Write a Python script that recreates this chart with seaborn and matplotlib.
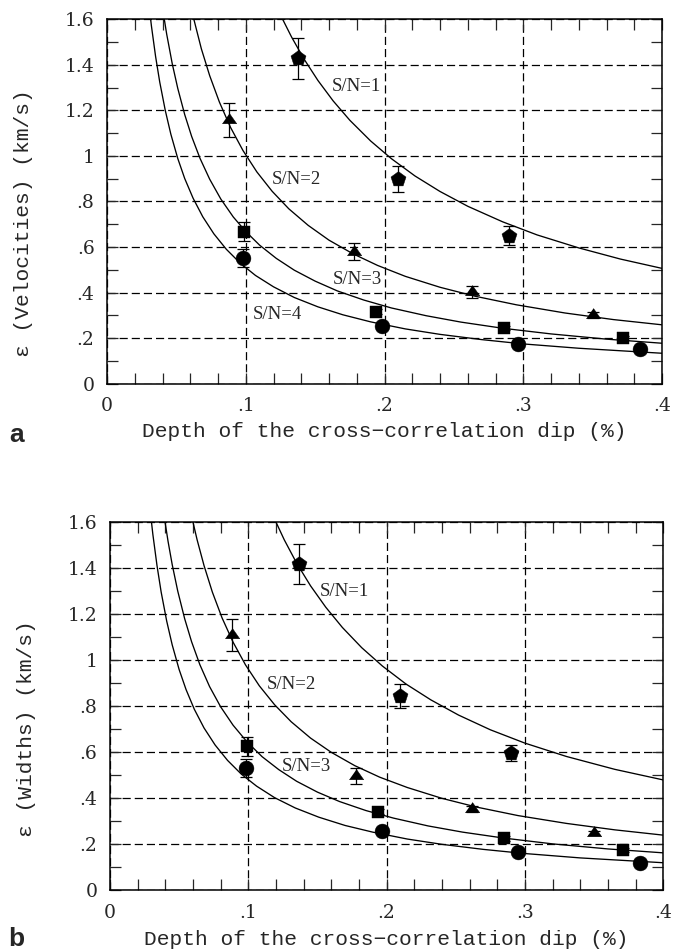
import numpy as np
import pandas as pd
import matplotlib
matplotlib.use('Agg')
import matplotlib.pyplot as plt
import seaborn as sns
from matplotlib.ticker import MultipleLocator

# ---------------- data ----------------
# panel a : velocities
# model curves, one per S/N
a_sn1_x = [0.125, 0.133, 0.142, 0.152, 0.163, 0.175, 0.19, 0.205, 0.222, 0.24, 0.26, 0.285, 0.31, 0.34, 0.37, 0.4]
a_sn1_y = [1.620, 1.523, 1.426, 1.332, 1.242, 1.157, 1.066, 0.988, 0.912, 0.844, 0.779, 0.711, 0.653, 0.596, 0.547, 0.506]
a_sn2_x = [0.061, 0.068, 0.074, 0.081, 0.089, 0.098, 0.108, 0.119, 0.131, 0.145, 0.16, 0.177, 0.195, 0.215, 0.24, 0.265, 0.295, 0.33, 0.365, 0.4]
a_sn2_y = [1.639, 1.471, 1.353, 1.237, 1.126, 1.024, 0.930, 0.845, 0.768, 0.695, 0.630, 0.571, 0.519, 0.471, 0.423, 0.384, 0.346, 0.310, 0.281, 0.258]
a_sn3_x = [0.040, 0.043, 0.047, 0.051, 0.056, 0.061, 0.067, 0.074, 0.082, 0.091, 0.1, 0.11, 0.122, 0.135, 0.15, 0.166, 0.185, 0.205, 0.23, 0.255, 0.285, 0.32, 0.36, 0.4]
a_sn3_y = [1.650, 1.536, 1.406, 1.297, 1.182, 1.086, 0.990, 0.898, 0.811, 0.732, 0.668, 0.608, 0.550, 0.498, 0.450, 0.407, 0.367, 0.332, 0.298, 0.270, 0.243, 0.218, 0.195, 0.177]
a_sn4_x = [0.030, 0.032, 0.035, 0.038, 0.042, 0.046, 0.051, 0.056, 0.062, 0.069, 0.077, 0.086, 0.096, 0.107, 0.12, 0.135, 0.152, 0.17, 0.19, 0.215, 0.24, 0.27, 0.3, 0.34, 0.4]
a_sn4_y = [1.676, 1.572, 1.438, 1.325, 1.200, 1.096, 0.989, 0.901, 0.815, 0.733, 0.658, 0.590, 0.529, 0.475, 0.425, 0.378, 0.337, 0.302, 0.271, 0.240, 0.216, 0.193, 0.174, 0.155, 0.133]

# measured points with error bars
a_pent_x = [0.138, 0.210, 0.290]
a_pent_y = [1.430, 0.898, 0.650]
a_pent_err = [0.090, 0.057, 0.043]
a_tri_x = [0.088, 0.178, 0.263, 0.350]
a_tri_y = [1.158, 0.580, 0.404, 0.301]
a_tri_err = [0.073, 0.036, 0.026, 0.012]
a_sq_x = [0.099, 0.194, 0.286, 0.372]
a_sq_y = [0.667, 0.316, 0.244, 0.200]
a_sq_err = [0.042, 0.010, 0.010, 0.010]
a_circ_x = [0.098, 0.198, 0.296, 0.384]
a_circ_y = [0.550, 0.252, 0.175, 0.152]
a_circ_err = [0.040, 0.010, 0.010, 0.010]

# panel b : widths
b_sn1_x = [0.118, 0.126, 0.135, 0.145, 0.156, 0.168, 0.182, 0.197, 0.214, 0.232, 0.252, 0.275, 0.3, 0.33, 0.365, 0.4]
b_sn1_y = [1.627, 1.524, 1.422, 1.324, 1.231, 1.143, 1.055, 0.975, 0.897, 0.828, 0.762, 0.698, 0.640, 0.582, 0.526, 0.480]
b_sn2_x = [0.059, 0.063, 0.068, 0.074, 0.081, 0.089, 0.098, 0.108, 0.119, 0.131, 0.145, 0.16, 0.177, 0.195, 0.215, 0.24, 0.265, 0.295, 0.33, 0.365, 0.4]
b_sn2_y = [1.627, 1.524, 1.412, 1.297, 1.185, 1.079, 0.980, 0.889, 0.807, 0.733, 0.662, 0.600, 0.542, 0.492, 0.447, 0.400, 0.362, 0.325, 0.291, 0.263, 0.240]
b_sn3_x = [0.039, 0.042, 0.045, 0.049, 0.054, 0.059, 0.065, 0.072, 0.08, 0.089, 0.099, 0.11, 0.122, 0.135, 0.15, 0.166, 0.185, 0.205, 0.23, 0.255, 0.285, 0.32, 0.36, 0.4]
b_sn3_y = [1.633, 1.517, 1.416, 1.301, 1.181, 1.081, 0.981, 0.886, 0.798, 0.718, 0.646, 0.581, 0.525, 0.474, 0.427, 0.386, 0.347, 0.314, 0.280, 0.253, 0.227, 0.202, 0.180, 0.163]
b_sn4_x = [0.029, 0.031, 0.034, 0.037, 0.041, 0.045, 0.05, 0.055, 0.061, 0.068, 0.076, 0.085, 0.095, 0.106, 0.119, 0.134, 0.151, 0.17, 0.19, 0.215, 0.24, 0.27, 0.3, 0.34, 0.4]
b_sn4_y = [1.655, 1.548, 1.412, 1.297, 1.171, 1.067, 0.960, 0.873, 0.787, 0.706, 0.632, 0.565, 0.505, 0.453, 0.403, 0.358, 0.318, 0.282, 0.253, 0.223, 0.200, 0.178, 0.160, 0.141, 0.120]

b_pent_x = [0.137, 0.210, 0.290]
b_pent_y = [1.418, 0.845, 0.598]
b_pent_err = [0.088, 0.053, 0.035]
b_tri_x = [0.088, 0.178, 0.262, 0.350]
b_tri_y = [1.110, 0.497, 0.353, 0.250]
b_tri_err = [0.070, 0.036, 0.012, 0.010]
b_sq_x = [0.099, 0.194, 0.285, 0.371]
b_sq_y = [0.626, 0.342, 0.226, 0.176]
b_sq_err = [0.042, 0.010, 0.010, 0.010]
b_circ_x = [0.098, 0.197, 0.295, 0.383]
b_circ_y = [0.532, 0.259, 0.168, 0.118]
b_circ_err = [0.040, 0.010, 0.010, 0.010]

x_ticks = [0, 0.1, 0.2, 0.3, 0.4]
x_tick_labels = ['0', '.1', '.2', '.3', '.4']
y_ticks = [0, 0.2, 0.4, 0.6, 0.8, 1.0, 1.2, 1.4, 1.6]
y_tick_labels = ['0', '.2', '.4', '.6', '.8', '1', '1.2', '1.4', '1.6']

x_label = 'Depth of the cross\u2212correlation dip (%)'
a_y_label = '\u03b5 (Velocities) (km/s)'
b_y_label = '\u03b5 (Widths) (km/s)'

# curve labels: (text, x, y)
a_sn_labels = [('S/N=1', 0.162, 1.305), ('S/N=2', 0.119, 0.898), ('S/N=3', 0.163, 0.458), ('S/N=4', 0.105, 0.305)]
b_sn_labels = [('S/N=1', 0.152, 1.298), ('S/N=2', 0.113, 0.897), ('S/N=3', 0.124, 0.537)]

# ---------------- style ----------------
sns.set_style('ticks')
plt.rcParams['font.family'] = ['DejaVu Serif']
plt.rcParams['axes.linewidth'] = 1.1

# marker shapes and sizes (pentagon, flat triangle, square, circle)
tri_marker = [(-1, -0.45), (1, -0.45), (0, 0.97)]
markers = [('p', 130), (tri_marker, 110), ('s', 68), ('o', 115)]

fig = plt.figure(figsize=(6.73, 9.5), dpi=100)
ax_a = fig.add_axes([0.159, 0.5963, 0.8247, 0.3832])
ax_b = fig.add_axes([0.1634, 0.0628, 0.8221, 0.3874])

panels = [
    (ax_a,
     [(a_sn1_x, a_sn1_y), (a_sn2_x, a_sn2_y), (a_sn3_x, a_sn3_y), (a_sn4_x, a_sn4_y)],
     [(a_pent_x, a_pent_y, a_pent_err), (a_tri_x, a_tri_y, a_tri_err),
      (a_sq_x, a_sq_y, a_sq_err), (a_circ_x, a_circ_y, a_circ_err)],
     a_sn_labels, a_y_label, 'a'),
    (ax_b,
     [(b_sn1_x, b_sn1_y), (b_sn2_x, b_sn2_y), (b_sn3_x, b_sn3_y), (b_sn4_x, b_sn4_y)],
     [(b_pent_x, b_pent_y, b_pent_err), (b_tri_x, b_tri_y, b_tri_err),
      (b_sq_x, b_sq_y, b_sq_err), (b_circ_x, b_circ_y, b_circ_err)],
     b_sn_labels, b_y_label, 'b'),
]

for ax, curves, points, sn_labels, y_label, tag in panels:
    # model curves
    for cx, cy in curves:
        sns.lineplot(x=cx, y=cy, ax=ax, color='black', linewidth=0.95,
                     sort=False, estimator=None, zorder=3)

    # measurements with error bars
    for (px, py, perr), (mk, size) in zip(points, markers):
        ax.errorbar(px, py, yerr=perr, fmt='none', ecolor='black',
                    elinewidth=0.9, capsize=4, capthick=0.9, zorder=4)
        sns.scatterplot(x=px, y=py, ax=ax, marker=mk, s=size, color='black',
                        edgecolor='black', linewidth=0.3, zorder=5)

    for txt, tx, ty in sn_labels:
        ax.text(tx, ty, txt, fontsize=13.5, family='Liberation Serif',
                ha='left', va='center', zorder=6)

    ax.set_xlim(0, 0.4)
    ax.set_ylim(0, 1.6)
    ax.set_xticks(x_ticks, x_tick_labels)
    ax.set_yticks(y_ticks, y_tick_labels)
    ax.xaxis.set_minor_locator(MultipleLocator(0.02))
    ax.yaxis.set_minor_locator(MultipleLocator(0.1))
    ax.tick_params(which='both', direction='in', top=True, right=True,
                   length=8, width=0.9, labelsize=13.5)
    ax.tick_params(axis='x', pad=10)
    ax.tick_params(axis='y', pad=9)

    ax.grid(which='major', color='black', linewidth=0.9,
            linestyle=(0, (6.5, 3.2)))
    ax.set_axisbelow(True)
    for sp in ax.spines.values():
        sp.set_visible(True)
        sp.set_color('black')

    ax.set_xlabel(x_label, fontsize=15.3, family='Liberation Mono')
    ax.set_ylabel(y_label, fontsize=15.3, family='Liberation Mono')
    ax.xaxis.set_label_coords(0.5, -0.107)
    ax.yaxis.set_label_coords(-0.133, 0.44)

fig.text(0.024, 0.542, 'a', fontsize=19, fontweight='bold',
         family='Liberation Sans', ha='center', va='center')
fig.text(0.024, 0.012, 'b', fontsize=19, fontweight='bold',
         family='Liberation Sans', ha='center', va='center')

fig.savefig('out.png', dpi=100, facecolor='white')
